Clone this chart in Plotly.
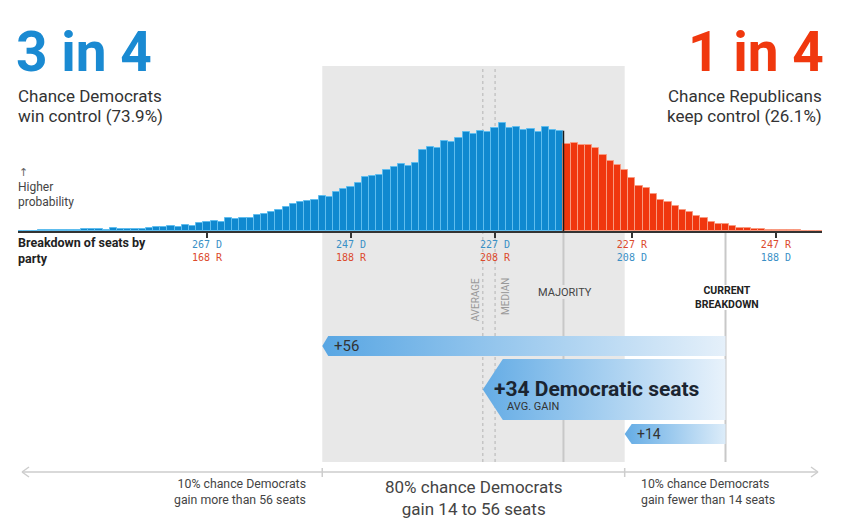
import plotly.graph_objects as go

# ------------------------------------------------------------------ data
TOTAL_SEATS = 435
MAJORITY_DEM = 218

# Democratic seat totals (one bar per outcome) and their probability in %
dem_seats = list(range(293, 181, -1))
win_probability = [
    0.010, 0.012, 0.012, 0.015, 0.015, 0.017, 0.017, 0.019, 0.022,          # 293-285
    0.044, 0.044, 0.044, 0.024, 0.068, 0.049, 0.049, 0.051, 0.054,          # 284-276
    0.085, 0.088, 0.088, 0.129, 0.109, 0.158, 0.127, 0.190,                 # 275-268
    0.231, 0.238, 0.212, 0.321, 0.304, 0.316, 0.326, 0.397, 0.414, 0.474,   # 267-258
    0.511, 0.572, 0.657, 0.706, 0.730, 0.766, 0.852, 0.839, 0.949, 1.015,   # 257-248
    1.078, 1.168, 1.307, 1.345, 1.355, 1.484, 1.564, 1.623, 1.574, 1.662,   # 247-238
    1.978, 2.036, 2.019, 2.178, 2.165, 2.270, 2.401, 2.367, 2.440, 2.401,   # 237-228
    2.513, 2.628, 2.499, 2.538, 2.457, 2.482, 2.416, 2.530, 2.465, 2.440,   # 227-218
    2.109, 2.148, 2.100, 2.085, 2.019, 1.856, 1.703, 1.613, 1.491, 1.289,   # 217-208
    1.102, 1.039, 0.907, 0.754, 0.713, 0.616, 0.504, 0.455, 0.372, 0.309,   # 207-198
    0.226, 0.163, 0.163, 0.122, 0.080, 0.066, 0.049, 0.049, 0.032, 0.024,   # 197-188
    0.017, 0.024, 0.017, 0.010, 0.007, 0.005,                               # 187-182
]

current_dem = 195          # current breakdown
average_dem = 228.7        # mean outcome
median_dem = 227           # median outcome
avg_gain = 34
gain_high = 56             # 10% chance of more
gain_low = 14              # 10% chance of fewer
dem_chance = 73.9
rep_chance = 26.1
tick_rep_seats = [168, 188, 208, 227, 247]

# ------------------------------------------------------------------ styling
OFF = 8                     # page margin around the figure
W, H = 846 - OFF, 526 - OFF
BLUE = "#1089d0"
BLUE_EDGE = "#5fbdee"
RED = "#f0360e"
RED_EDGE = "#f89a80"
TXT_BLUE = "#3a90c6"
TXT_RED = "#dc4a2c"
BAND = "#e8e8e8"
X_RANGE = [141.75, 253.4]          # in Republican seats
PX_PER_SEAT = 804 / (X_RANGE[1] - X_RANGE[0])


def px(v):
    return (v - OFF) / W


def py(v):
    return 1 - (v - OFF) / H


rep_x = [TOTAL_SEATS - d for d in dem_seats]
bar_colors = [BLUE if d >= MAJORITY_DEM else RED for d in dem_seats]
edge_colors = [BLUE_EDGE if d >= MAJORITY_DEM else RED_EDGE for d in dem_seats]

ticktext = []
for r in tick_rep_seats:
    d = TOTAL_SEATS - r
    dem_lbl = f"<span style='color:{TXT_BLUE}'>{d} D</span>"
    rep_lbl = f"<span style='color:{TXT_RED}'>{r} R</span>"
    ticktext.append(dem_lbl + "<br>" + rep_lbl if d > r else rep_lbl + "<br>" + dem_lbl)

fig = go.Figure()

fig.add_trace(go.Bar(
    x=rep_x, y=win_probability, width=1,
    marker=dict(color=bar_colors, line=dict(color=edge_colors, width=1)),
    hoverinfo="skip",
))

# gradient arrows for seat gains
x_current = TOTAL_SEATS - current_dem


def arrow(x_tip, yc, half, tip_px, c0, c1):
    dx = tip_px / PX_PER_SEAT
    xs = [x_tip, x_tip + dx, x_current, x_current, x_tip + dx, x_tip]
    ys = [yc, yc - half, yc - half, yc + half, yc + half, yc]
    return go.Scatter(
        x=xs, y=ys, yaxis="y2", mode="lines", fill="toself",
        line=dict(width=0, color="rgba(0,0,0,0)"),
        fillgradient=dict(type="horizontal", colorscale=[[0, c0], [1, c1]]),
        hoverinfo="skip",
    )


fig.add_trace(arrow(TOTAL_SEATS - (current_dem + gain_high), 346, 10, 6,
                    "rgb(88,166,227)", "rgb(229,240,250)"))
fig.add_trace(arrow(TOTAL_SEATS - average_dem, 389.5, 30.5, 20,
                    "rgb(100,172,229)", "rgb(232,242,251)"))
fig.add_trace(arrow(TOTAL_SEATS - (current_dem + gain_low), 434, 10, 7,
                    "rgb(100,172,229)", "rgb(220,236,249)"))

shapes = []
# 80% band
shapes.append(dict(type="rect", xref="x", yref="paper",
                   x0=TOTAL_SEATS - (current_dem + gain_high),
                   x1=TOTAL_SEATS - (current_dem + gain_low),
                   y0=py(462), y1=py(66), fillcolor=BAND, line=dict(width=0), layer="below"))
# average / median dotted
for d in (average_dem, median_dem):
    shapes.append(dict(type="line", xref="x", yref="paper",
                       x0=TOTAL_SEATS - d, x1=TOTAL_SEATS - d, y0=py(462), y1=py(66),
                       line=dict(color="#b4b4b4", width=1, dash="dot"), layer="below"))
# majority and current lines below axis (interrupted by their labels)
x_major = TOTAL_SEATS - MAJORITY_DEM + 0.5
for xv, gap in ((x_major, (285, 299)), (x_current, (285, 310))):
    for y_top, y_bot in ((231, gap[0]), (gap[1], 462)):
        shapes.append(dict(type="line", xref="x", yref="paper",
                           x0=xv, x1=xv, y0=py(y_bot), y1=py(y_top),
                           line=dict(color="#c8c8c8", width=2), layer="below"))
# dark majority edge in bars
shapes.append(dict(type="line", xref="x", yref="y", x0=x_major, x1=x_major,
                   y0=0, y1=win_probability[dem_seats.index(MAJORITY_DEM)],
                   line=dict(color="#1a1a1a", width=1.5), layer="above"))
# bottom double arrow
AC = "#cdcdcd"
shapes.append(dict(type="line", xref="paper", yref="paper", x0=px(22), x1=px(818),
                   y0=py(472), y1=py(472), line=dict(color=AC, width=1.5)))
for (xa, xb) in ((22, 29), (818, 811)):
    for yb in (467, 477):
        shapes.append(dict(type="line", xref="paper", yref="paper", x0=px(xa), x1=px(xb),
                           y0=py(472), y1=py(yb), line=dict(color=AC, width=1.5)))
for d in (current_dem + gain_high, current_dem + gain_low):
    shapes.append(dict(type="line", xref="x", yref="paper",
                       x0=TOTAL_SEATS - d, x1=TOTAL_SEATS - d, y0=py(468), y1=py(477),
                       line=dict(color=AC, width=1.5)))

ann = []


def text(x, y, t, size, color="#333", xanchor="left", bold=False, family="Roboto", **kw):
    ann.append(dict(x=px(x), y=py(y), xref="paper", yref="paper", text=t,
                    showarrow=False, xanchor=xanchor, yanchor="middle",
                    font=dict(family=family, size=size, color=color,
                              weight="bold" if bold else "normal"), **kw))


text(14, 52, "3 in 4", 55, "#1a8ad2", bold=True)
text(826, 52, "1 in 4", 55, "#f0380e", xanchor="right", bold=True)
text(16, 96, "Chance Democrats", 17)
text(16, 116, f"win control ({dem_chance}%)", 17)
text(824, 96, "Chance Republicans", 17, xanchor="right")
text(824, 116, f"keep control ({rep_chance}%)", 17, xanchor="right")
text(17, 172, "↑", 11, "#666", family="DejaVu Sans")
text(16, 187, "Higher", 12, "#444")
text(16, 202, "probability", 12, "#444")
text(16, 250.5, "Breakdown of seats by<br>party", 12.5, "#222", bold=True, align="left")

text(565, 292, "MAJORITY", 11, "#444", xanchor="center")
text(727, 297.5, "CURRENT<br>BREAKDOWN", 10.5, "#222", xanchor="center", bold=True)
text(474.5, 300, "AVERAGE", 10, "#999", xanchor="center", textangle=-90)
text(505, 297, "MEDIAN", 10, "#999", xanchor="center", textangle=-90)

text(332, 346, f"+{gain_high}", 15, "#333")
text(492, 389, f"+{avg_gain} Democratic seats", 21, "#1b2531", bold=True)
text(505, 406, "AVG. GAIN", 11, "#333")
text(635, 434, f"+{gain_low}", 14, "#333")

text(308, 492, f"10% chance Democrats<br>gain more than {gain_high} seats", 12.3, "#444",
     xanchor="right", align="right")
text(474, 498, f"80% chance Democrats<br>gain {gain_low} to {gain_high} seats", 17, "#444",
     xanchor="center", align="center")
text(639, 492, f"10% chance Democrats<br>gain fewer than {gain_low} seats", 12.3, "#444",
     align="left")

fig.update_layout(
    width=W, height=H, margin=dict(l=0, r=0, t=0, b=0),
    paper_bgcolor="white", plot_bgcolor="rgba(0,0,0,0)",
    showlegend=False, bargap=0,
    font=dict(family="Roboto", color="#333"),
    xaxis=dict(domain=[px(18), px(822)], range=X_RANGE, anchor="y",
               showgrid=False, zeroline=False, showline=True,
               linecolor="#333", linewidth=1.5,
               ticks="outside", ticklen=5, tickwidth=1.5, tickcolor="#333",
               tickvals=tick_rep_seats, ticktext=ticktext, ticklabelstandoff=-2,
               tickfont=dict(family="DejaVu Sans Mono", size=10)),
    yaxis=dict(domain=[py(231), py(66)], range=[0, 4.0145], visible=False),
    yaxis2=dict(domain=[0, 1], range=[H + OFF, OFF], visible=False, anchor="x"),
    shapes=shapes, annotations=ann,
)

fig.write_html("out.html")
